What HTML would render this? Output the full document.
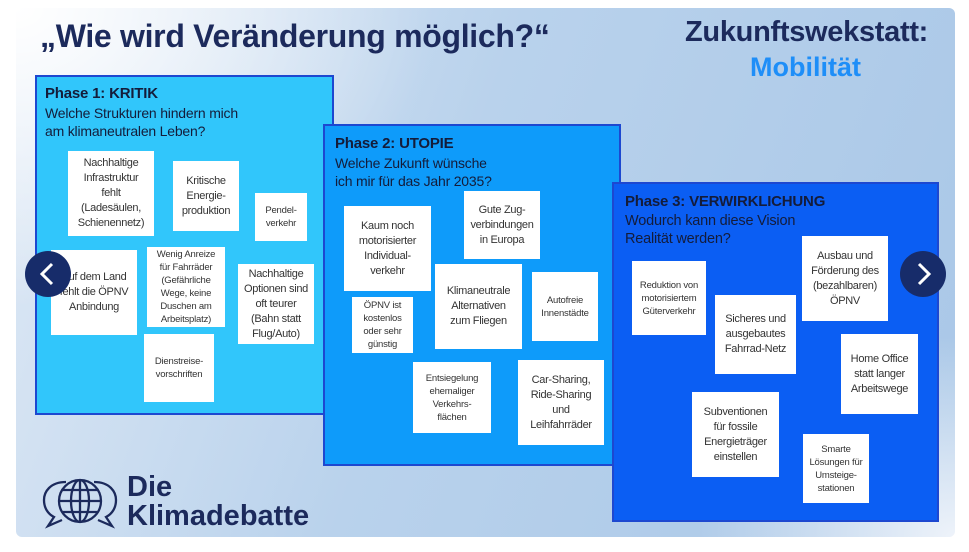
<!DOCTYPE html>
<html><head><meta charset="utf-8"><style>
*{margin:0;padding:0;box-sizing:border-box}
body{width:969px;height:552px;background:#fff;position:relative;overflow:hidden;font-family:"Liberation Sans",sans-serif}
.slide{position:absolute;left:16px;top:8px;width:939px;height:529px;border-radius:6px;
background:radial-gradient(ellipse 420px 300px at 0% 0%,#ffffff 0%,rgba(255,255,255,0) 100%),
radial-gradient(ellipse 260px 200px at 100% 100%,#eef3fa 0%,rgba(238,243,250,0) 100%),
linear-gradient(110deg,#dfe9f5 0%,#b9d2ec 45%,#a9c7e7 100%);}
.t{position:absolute;color:#1c2a5c;font-weight:bold;white-space:nowrap}
.ph{position:absolute;border:2px solid #1d48d0}
.h{position:absolute;font-size:14px;color:#141c3a;line-height:18.5px;white-space:nowrap;letter-spacing:-0.2px}
.h b{font-size:15px}
.s{position:absolute;background:#fff;display:flex;align-items:center;justify-content:center;text-align:center;font-size:9.5px;line-height:13px;color:#333;letter-spacing:-0.2px;white-space:nowrap}
.s.l{font-size:11px;line-height:15px;letter-spacing:-0.3px}
.nav{position:absolute;width:46px;height:46px;border-radius:50%;background:#172c6a}
</style></head><body>
<div class="slide"></div>
<div class="t" style="left:40px;top:18px;font-size:32px;letter-spacing:-0.3px">„Wie wird Veränderung möglich?“</div>
<div class="t" style="left:685px;top:16px;font-size:29px;letter-spacing:-0.3px">Zukunftswekstatt:</div>
<div class="t" style="left:750px;top:52px;font-size:27px;color:#1e8ef8">Mobilität</div>

<div class="ph" style="left:35px;top:75px;width:299px;height:340px;background:#31c6fb"></div>
<div class="h" style="left:45px;top:84px"><b>Phase 1: KRITIK</b><br>Welche Strukturen hindern mich<br>am klimaneutralen Leben?</div>
<div class="s l" style="left:68px;top:151px;width:86px;height:85px">Nachhaltige<br>Infrastruktur<br>fehlt<br>(Ladesäulen,<br>Schienennetz)</div>
<div class="s l" style="left:173px;top:161px;width:66px;height:70px">Kritische<br>Energie-<br>produktion</div>
<div class="s" style="left:255px;top:193px;width:52px;height:48px">Pendel-<br>verkehr</div>
<div class="s l" style="left:51px;top:250px;width:86px;height:85px">Auf dem Land<br>fehlt die ÖPNV<br>Anbindung</div>
<div class="s" style="left:147px;top:247px;width:78px;height:80px">Wenig Anreize<br>für Fahrräder<br>(Gefährliche<br>Wege, keine<br>Duschen am<br>Arbeitsplatz)</div>
<div class="s l" style="left:238px;top:264px;width:76px;height:80px">Nachhaltige<br>Optionen sind<br>oft teurer<br>(Bahn statt<br>Flug/Auto)</div>
<div class="s" style="left:144px;top:334px;width:70px;height:68px">Dienstreise-<br>vorschriften</div>

<div class="ph" style="left:323px;top:124px;width:298px;height:342px;background:#0e9bfa"></div>
<div class="h" style="left:335px;top:134px"><b>Phase 2: UTOPIE</b><br>Welche Zukunft wünsche<br>ich mir für das Jahr 2035?</div>
<div class="s l" style="left:344px;top:206px;width:87px;height:85px">Kaum noch<br>motorisierter<br>Individual-<br>verkehr</div>
<div class="s l" style="left:464px;top:191px;width:76px;height:68px">Gute Zug-<br>verbindungen<br>in Europa</div>
<div class="s l" style="left:435px;top:264px;width:87px;height:85px">Klimaneutrale<br>Alternativen<br>zum Fliegen</div>
<div class="s" style="left:532px;top:272px;width:66px;height:69px">Autofreie<br>Innenstädte</div>
<div class="s" style="left:352px;top:297px;width:61px;height:56px">ÖPNV ist<br>kostenlos<br>oder sehr<br>günstig</div>
<div class="s" style="left:413px;top:362px;width:78px;height:71px">Entsiegelung<br>ehemaliger<br>Verkehrs-<br>flächen</div>
<div class="s l" style="left:518px;top:360px;width:86px;height:85px">Car-Sharing,<br>Ride-Sharing<br>und<br>Leihfahrräder</div>

<div class="ph" style="left:612px;top:182px;width:327px;height:340px;background:#0b5ef3"></div>
<div class="h" style="left:625px;top:193px;font-size:14.5px"><b>Phase 3: VERWIRKLICHUNG</b><br>Wodurch kann diese Vision<br>Realität werden?</div>
<div class="s" style="left:632px;top:261px;width:74px;height:74px">Reduktion von<br>motorisiertem<br>Güterverkehr</div>
<div class="s l" style="left:715px;top:295px;width:81px;height:79px">Sicheres und<br>ausgebautes<br>Fahrrad-Netz</div>
<div class="s l" style="left:802px;top:236px;width:86px;height:85px">Ausbau und<br>Förderung des<br>(bezahlbaren)<br>ÖPNV</div>
<div class="s l" style="left:841px;top:334px;width:77px;height:80px">Home Office<br>statt langer<br>Arbeitswege</div>
<div class="s l" style="left:692px;top:392px;width:87px;height:85px">Subventionen<br>für fossile<br>Energieträger<br>einstellen</div>
<div class="s" style="left:803px;top:434px;width:66px;height:69px">Smarte<br>Lösungen für<br>Umsteige-<br>stationen</div>

<div class="nav" style="left:25px;top:251px"><svg width="46" height="46"><polyline points="27,13 17,23 27,33" fill="none" stroke="#fff" stroke-width="3"/></svg></div>
<div class="nav" style="left:900px;top:251px"><svg width="46" height="46"><polyline points="19,13 29,23 19,33" fill="none" stroke="#fff" stroke-width="3"/></svg></div>

<svg style="position:absolute;left:40px;top:474px" width="80" height="60" viewBox="0 0 80 60" fill="none" stroke="#1c2a5c" stroke-width="2.3">
<path d="M26 8 C10 8 4 18 4 26 C4 34 8 40 14 43 L8 52 L22 46"/>
<path d="M54 8 C70 8 76 18 76 26 C76 34 72 40 66 43 L72 52 L58 46"/>
<circle cx="40" cy="27" r="21"/>
<ellipse cx="40" cy="27" rx="9" ry="21"/>
<line x1="40" y1="6" x2="40" y2="48"/>
<line x1="19" y1="27" x2="61" y2="27"/>
<path d="M23 16 H57 M23 38 H57"/>
</svg>
<div class="t" style="left:127px;top:473px;font-size:29px;line-height:29px">Die<br>Klimadebatte</div>
</body></html>
